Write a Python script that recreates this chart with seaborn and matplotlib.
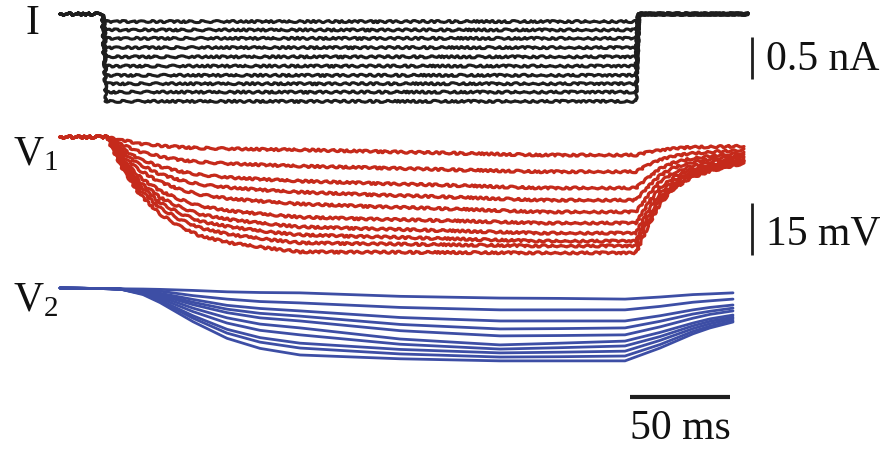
import numpy as np
import pandas as pd
import matplotlib
matplotlib.use("Agg")
import matplotlib.pyplot as plt
import seaborn as sns

# ---------------- data ----------------
# current traces I (nA): time points (ms) and step levels
t_I = [0, 21, 23, 288, 289.5, 344]
I_levels = [-0.09, -0.19, -0.29, -0.40, -0.51, -0.62, -0.73, -0.83, -0.93, -1.04]
I_traces = [[0, 0, L, L, 0, 0] for L in I_levels]

# V1 traces (mV, deflection from rest)
t_V1 = [0, 10, 20, 23.5, 27.5, 32.5, 40, 50, 60, 70, 85, 105, 120, 160, 200, 240,
        288, 294, 300, 307, 315, 325, 335, 342]
V1_traces = [
    [0, 0, 0, 0, -0.6, -1.1, -1.9, -2.5, -2.9, -3.2, -3.4, -3.6, -3.7, -4.2, -4.7, -5.2, -5.2, -4.4, -3.8, -3.3, -3.0, -2.8, -2.7, -2.6],
    [0, 0, 0, 0, -1.3, -2.6, -4.2, -5.6, -6.6, -7.2, -7.7, -8.1, -8.4, -8.9, -9.5, -10.0, -10.0, -8.1, -6.5, -5.5, -4.8, -4.3, -4.0, -3.7],
    [0, 0, 0, 0, -1.9, -3.9, -6.4, -8.5, -9.9, -10.9, -11.7, -12.3, -12.7, -13.4, -14.0, -14.7, -14.7, -11.7, -9.1, -7.4, -6.3, -5.5, -5.0, -4.6],
    [0, 0, 0, 0, -2.4, -4.9, -8.0, -10.7, -12.4, -13.7, -14.6, -15.4, -15.9, -16.7, -17.4, -18.2, -18.2, -14.3, -11.1, -8.8, -7.4, -6.4, -5.7, -5.2],
    [0, 0, 0, 0, -2.9, -6.0, -9.7, -12.9, -15.1, -16.6, -17.8, -18.7, -19.3, -20.1, -20.8, -21.6, -21.6, -16.9, -12.9, -10.2, -8.5, -7.2, -6.4, -5.8],
    [0, 0, 0, 0, -3.5, -7.2, -11.6, -15.5, -18.0, -19.9, -21.3, -22.4, -23.1, -23.7, -24.2, -24.8, -24.8, -19.3, -14.6, -11.5, -9.4, -8.0, -7.0, -6.3],
    [0, 0, 0, 0, -3.9, -8.0, -13.0, -17.4, -20.2, -22.3, -23.8, -25.1, -25.9, -26.5, -27.1, -27.7, -27.7, -21.4, -16.1, -12.5, -10.2, -8.5, -7.4, -6.6],
    [0, 0, 0, 0, -4.2, -8.7, -14.1, -18.9, -22.0, -24.3, -25.9, -27.4, -28.2, -28.8, -29.4, -30.0, -30.0, -23.1, -17.3, -13.4, -10.8, -9.0, -7.8, -6.9],
    [0, 0, 0, 0, -4.6, -9.5, -15.3, -20.4, -23.8, -26.2, -28.1, -29.6, -30.5, -30.8, -31.1, -31.4, -31.4, -24.1, -18.1, -14.0, -11.3, -9.4, -8.2, -7.2],
    [0, 0, 0, 0, -5.0, -10.3, -16.6, -22.2, -25.8, -28.5, -30.5, -32.1, -33.1, -33.2, -33.3, -33.4, -33.4, -25.6, -19.2, -14.8, -11.9, -9.8, -8.5, -7.5],
]

# V2 traces (mV, deflection from rest)
t_V2 = [0, 25, 30, 41.5, 50, 66.5, 83.5, 100, 120, 170, 220, 250, 282.5, 300, 316.5, 325, 336.5]
V2_traces = [
    [0, -0.2, -0.3, -0.3, -0.4, -0.7, -1.1, -1.3, -1.4, -2.4, -2.9, -3.0, -3.2, -2.6, -1.9, -1.7, -1.4],
    [0, -0.2, -0.3, -0.4, -0.9, -2.2, -3.2, -3.9, -4.3, -5.6, -6.3, -6.3, -6.3, -5.3, -4.1, -3.7, -3.2],
    [0, -0.2, -0.3, -0.7, -1.5, -3.3, -5.0, -5.9, -6.6, -8.5, -9.5, -9.5, -9.5, -8.0, -6.3, -5.6, -4.9],
    [0, -0.2, -0.3, -0.8, -1.8, -4.1, -6.1, -7.3, -8.1, -10.5, -11.8, -11.7, -11.5, -9.6, -7.5, -6.7, -5.8],
    [0, -0.2, -0.3, -1.0, -2.1, -4.8, -7.1, -8.6, -9.5, -12.3, -13.8, -13.7, -13.5, -11.2, -8.7, -7.6, -6.6],
    [0, -0.2, -0.3, -1.2, -2.5, -5.8, -8.6, -10.4, -11.5, -14.7, -16.4, -15.9, -15.3, -12.8, -10.1, -8.9, -7.8],
    [0, -0.2, -0.3, -1.4, -3.0, -6.8, -10.1, -12.2, -13.5, -16.2, -17.6, -17.2, -16.7, -14.0, -10.9, -9.6, -8.4],
    [0, -0.2, -0.3, -1.6, -3.5, -8.0, -11.9, -14.3, -15.9, -17.7, -18.7, -18.5, -18.2, -15.1, -11.7, -10.3, -8.9],
    [0, -0.2, -0.3, -1.7, -3.8, -8.7, -13.0, -15.6, -17.3, -19.0, -19.9, -19.8, -19.6, -16.3, -12.5, -11.0, -9.5],
    [0, -0.2, -0.3, -1.9, -4.2, -9.7, -14.5, -17.4, -19.3, -20.4, -21.0, -21.0, -21.0, -17.3, -13.2, -11.5, -9.8],
]

panel_labels = [r"$\mathrm{I}$", r"$\mathrm{V}_1$", r"$\mathrm{V}_2$"]
scale_I = (0.5, "0.5 nA")
scale_V = (15, "15 mV")
scale_t = (50, "50 ms")


def long_df(t, traces):
    rows = []
    for k, tr in enumerate(traces):
        for ti, vi in zip(t, tr):
            rows.append((k, ti, vi))
    return pd.DataFrame(rows, columns=["trace", "t", "v"])


# ---------------- figure ----------------
sns.set_style("white")
plt.rcParams["font.family"] = ["Liberation Serif", "DejaVu Serif"]
plt.rcParams["mathtext.fontset"] = "custom"
plt.rcParams["mathtext.rm"] = "Liberation Serif"
plt.rcParams["mathtext.it"] = "Liberation Serif:italic"

W, H = 892, 450
fig = plt.figure(figsize=(W / 100, H / 100), dpi=100)

PX_MS = 2.0      # pixels per ms
X0 = 60          # pixel x of t=0
xlim = ((0 - X0) / PX_MS, (W - X0) / PX_MS)


def make_ax(ytop, ybot, base_px, px_per_unit):
    ax = fig.add_axes([0, 1 - ybot / H, 1, (ybot - ytop) / H])
    ax.set_xlim(*xlim)
    ax.set_ylim(-(ybot - base_px) / px_per_unit, (base_px - ytop) / px_per_unit)
    ax.axis("off")
    return ax


PX_NA = 84.0
PX_MV = 3.47
axI = make_ax(0, 120, 14, PX_NA)
axV1 = make_ax(120, 270, 137, PX_MV)
axV2 = make_ax(270, 410, 288, PX_MV)

black = "#1e1e1e"
red = "#c52a1b"
blue = "#3d4ea5"

sns.lineplot(data=long_df(t_I, I_traces), x="t", y="v", units="trace", estimator=None,
             sort=False, color=black, lw=2.2, ax=axI, legend=False)
sns.lineplot(data=long_df(t_V1, V1_traces), x="t", y="v", units="trace", estimator=None,
             sort=False, color=red, lw=2.3, ax=axV1, legend=False)
sns.lineplot(data=long_df(t_V2, V2_traces), x="t", y="v", units="trace", estimator=None,
             sort=False, color=blue, lw=2.0, ax=axV2, legend=False)

for ax in (axI, axV1):
    for ln in ax.lines:
        ln.set_sketch_params(scale=1.0, length=12, randomness=5)
        ln.set_solid_joinstyle("round")
        ln.set_solid_capstyle("round")
for ln in axV2.lines:
    ln.set_solid_joinstyle("round")

# scale bars
xb = (752 - X0) / PX_MS
axI.plot([xb, xb], [-0.27, -0.27 - scale_I[0]], color=black, lw=2.0, solid_capstyle="butt")
axV1.plot([xb, xb], [-19.0, -19.0 - scale_V[0]], color=black, lw=2.0, solid_capstyle="butt")
axV2.plot([285, 285 + scale_t[0]], [-31.4, -31.4], color=black, lw=3.0, solid_capstyle="butt")

fs = 30
tc = "#111111"
fig.text(766 / W, 1 - 60 / H, scale_I[1], fontsize=fs, ha="left", va="center", color=tc)
fig.text(766 / W, 1 - 234 / H, scale_V[1], fontsize=fs, ha="left", va="center", color=tc)
fig.text(680 / W, 1 - 429 / H, scale_t[1], fontsize=fs, ha="center", va="center", color=tc)

# panel labels
fig.text(32 / W, 1 - 24 / H, panel_labels[0], fontsize=fs, ha="center", va="center", color=tc)
fig.text(13 / W, 1 - 155 / H, panel_labels[1], fontsize=fs, ha="left", va="center", color=tc)
fig.text(13 / W, 1 - 301 / H, panel_labels[2], fontsize=fs, ha="left", va="center", color=tc)

fig.savefig("out.png", dpi=100)
